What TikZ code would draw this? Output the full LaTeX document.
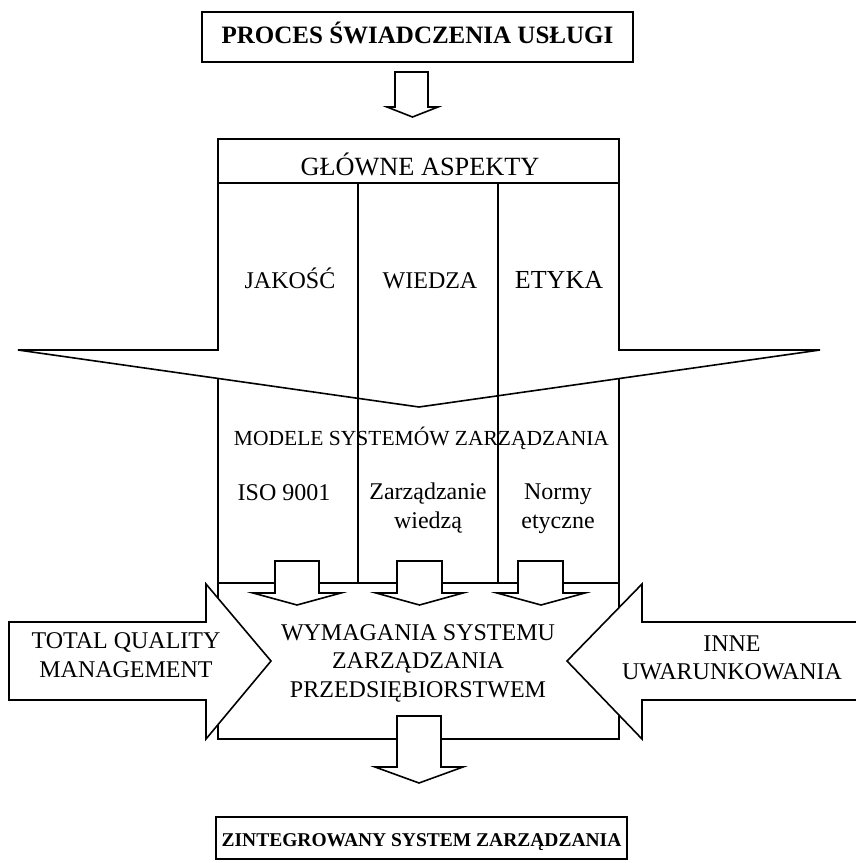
\documentclass[tikz,border=0pt]{standalone}
\usepackage{fontspec}
\setmainfont{Liberation Serif}
\tikzstyle{frame} = [draw, line width=1.6pt, line join=miter]
\tikzstyle{blockarrow} = [draw, fill=white, line width=1.6pt, line join=miter]
\tikzstyle{box} = [rectangle, draw, line width=1.6pt, inner sep=0pt, font=\bfseries\fontsize{25}{28}\selectfont]
\tikzstyle{txt} = [inner sep=0pt, align=center, anchor=base, font=\fontsize{24}{28.5}\selectfont]

\begin{document}
\begin{tikzpicture}[x=1pt, y=-1pt]
    \useasboundingbox (0,0) rectangle (855,863);
    % Draw frame
    \draw[frame] (218,139) rectangle (619,183);
    \draw[frame] (218,183) -- (218,350) -- (18,350) -- (419,407) -- (820,350) -- (619,350) -- (619,183);
    \draw[frame] (358,183) -- (358,583);
    \draw[frame] (498,183) -- (498,583);
    \draw[frame] (218,378) -- (218,739) -- (619,739) -- (619,378);
    \draw[frame] (218,583) -- (619,583);

    % Draw arrows
    \draw[blockarrow] (395,72) -- (428,72) -- (428,107) -- (438,107) -- (412.5,117) -- (387,107) -- (395,107) -- cycle;
    \draw[blockarrow] (275,561) -- (319,561) -- (319,593) -- (341,593) -- (297,605) -- (253,593) -- (275,593) -- cycle;
    \draw[blockarrow] (397,561) -- (442,561) -- (442,593) -- (463,593) -- (419.5,605) -- (376,593) -- (397,593) -- cycle;
    \draw[blockarrow] (518,561) -- (563,561) -- (563,593) -- (585,593) -- (541,605) -- (497,593) -- (518,593) -- cycle;
    \draw[blockarrow] (397,716) -- (441,716) -- (441,767) -- (463,767) -- (419,783) -- (375,767) -- (397,767) -- cycle;
    \draw[blockarrow] (9,622) -- (206,622) -- (206,584) -- (271,661) -- (206,739) -- (206,700) -- (9,700) -- cycle;
    \draw[blockarrow] (860,622) -- (642,622) -- (642,584) -- (567,661) -- (642,739) -- (642,700) -- (860,700);

    % Place nodes
    \node[box, minimum width=431pt, minimum height=50pt, text height=16pt, text depth=4pt] (proces) at (417.5,37) {PROCES ŚWIADCZENIA USŁUGI};
    \node[box, minimum width=411pt, minimum height=42pt, text height=16pt, text depth=0pt, font=\bfseries\fontsize{19.5}{24}\selectfont] (zsz) at (421.5,838) {ZINTEGROWANY SYSTEM ZARZĄDZANIA};
    \node[txt, font=\fontsize{26.3}{30}\selectfont] (aspekty) at (420,175) {GŁÓWNE ASPEKTY};
    \node[txt] (jakosc) at (290,288) {JAKOŚĆ};
    \node[txt] (wiedza) at (430,288) {WIEDZA};
    \node[txt, font=\fontsize{26}{30}\selectfont] (etyka) at (559,288) {ETYKA};
    \node[txt, font=\fontsize{21.5}{25}\selectfont] (modele) at (421.5,445) {MODELE SYSTEMÓW ZARZĄDZANIA};
    \node[txt] (iso) at (284,500) {ISO 9001};
    \node[txt] (zw) at (428,528) {Zarządzanie\\wiedzą};
    \node[txt] (normy) at (558,528) {Normy\\etyczne};
    \node[txt] (wymagania) at (418,697) {WYMAGANIA SYSTEMU\\ZARZĄDZANIA\\PRZEDSIĘBIORSTWEM};
    \node[txt] (tqm) at (126,677) {TOTAL QUALITY\\MANAGEMENT};
    \node[txt, font=\fontsize{24}{27.5}\selectfont] (inne) at (732,679) {INNE\\UWARUNKOWANIA};
\end{tikzpicture}
\end{document}
